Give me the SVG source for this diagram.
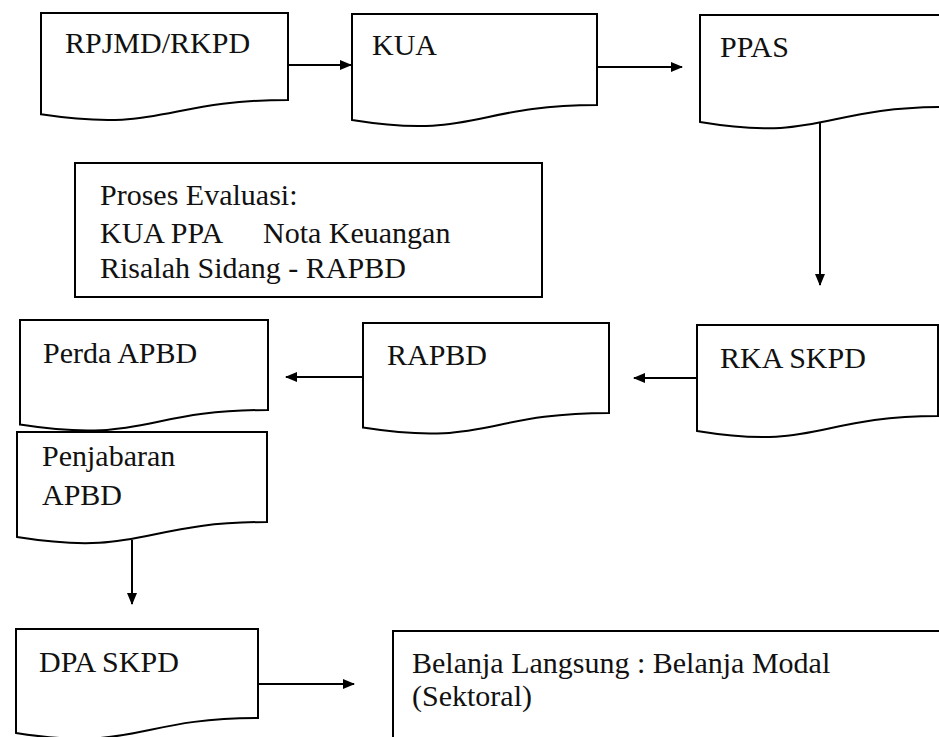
<svg xmlns="http://www.w3.org/2000/svg" width="939" height="737" viewBox="0 0 939 737">
<style>
.shape{fill:#fff;stroke:#000;stroke-width:2}
.lbl{font-family:"Liberation Serif","DejaVu Serif",serif;font-size:30px;fill:#111}
.conn{fill:none;stroke:#000;stroke-width:2}
</style>
<defs>
<marker id="arr" markerUnits="userSpaceOnUse" markerWidth="12" markerHeight="12" viewBox="0 0 12 12" refX="11" refY="6" orient="auto">
<path d="M0,1 L12,6 L0,11 Z" fill="#000"/>
</marker>
</defs>
<rect width="939" height="737" fill="#fff"/>

<g id="rpjmd">
<path class="shape" d="M41,13 H288 V100 C164.5,100 164.5,133 41,114.3 Z"/>
<text class="lbl" x="65" y="53">RPJMD/RKPD</text>
</g>
<g id="kua">
<path class="shape" d="M352,14 H597 V105 C474.5,105 474.5,139.7 352,120 Z"/>
<text class="lbl" x="372" y="55">KUA</text>
</g>
<g id="ppas">
<path class="shape" d="M700,15 H945 V107 C822.5,107 822.5,142.3 700,122 Z"/>
<text class="lbl" x="720" y="57">PPAS</text>
</g>
<g id="evaluasi">
<rect class="shape" x="75" y="163" width="467" height="134"/>
<text class="lbl" x="100" y="205" font-size="31">Proses Evaluasi:</text>
<text class="lbl" y="243" font-size="31"><tspan x="100">KUA PPA</tspan><tspan x="263">Nota Keuangan</tspan></text>
<text class="lbl" x="100" y="278" font-size="31">Risalah Sidang - RAPBD</text>
</g>
<g id="perda">
<path class="shape" d="M20,320 H268 V410 C144,410 144,444 20,424.6 Z"/>
<text class="lbl" x="43" y="363">Perda APBD</text>
</g>
<g id="rapbd">
<path class="shape" d="M363,323 H609 V413 C486,413 486,447 363,427.6 Z"/>
<text class="lbl" x="387" y="365">RAPBD</text>
</g>
<g id="rkaskpd">
<path class="shape" d="M697,325 H938 V416 C817.5,416 817.5,450.7 697,431 Z"/>
<text class="lbl" x="720" y="368">RKA SKPD</text>
</g>
<g id="penjabaran">
<path class="shape" d="M17,432 H267 V522 C142,522 142,557 17,537 Z"/>
<text class="lbl" x="42" y="466">Penjabaran</text>
<text class="lbl" x="42" y="505">APBD</text>
</g>
<g id="dpaskpd">
<path class="shape" d="M16,629 H258 V718 C137,718 137,752 16,733 Z"/>
<text class="lbl" x="39" y="672">DPA SKPD</text>
</g>
<g id="belanja">
<rect class="shape" x="393" y="631" width="560" height="130"/>
<text class="lbl" x="412" y="673">Belanja Langsung : Belanja Modal</text>
<text class="lbl" x="412" y="706">(Sektoral)</text>
</g>

<g id="connectors">
<line class="conn" x1="288" y1="65" x2="351" y2="65" marker-end="url(#arr)"/>
<line class="conn" x1="597" y1="67" x2="682" y2="67" marker-end="url(#arr)"/>
<line class="conn" x1="820" y1="122" x2="820" y2="285" marker-end="url(#arr)"/>
<line class="conn" x1="697" y1="378" x2="634" y2="378" marker-end="url(#arr)"/>
<line class="conn" x1="363" y1="377" x2="286" y2="377" marker-end="url(#arr)"/>
<line class="conn" x1="132" y1="540" x2="132" y2="604" marker-end="url(#arr)"/>
<line class="conn" x1="258" y1="684" x2="354" y2="684" marker-end="url(#arr)"/>
</g>
</svg>
